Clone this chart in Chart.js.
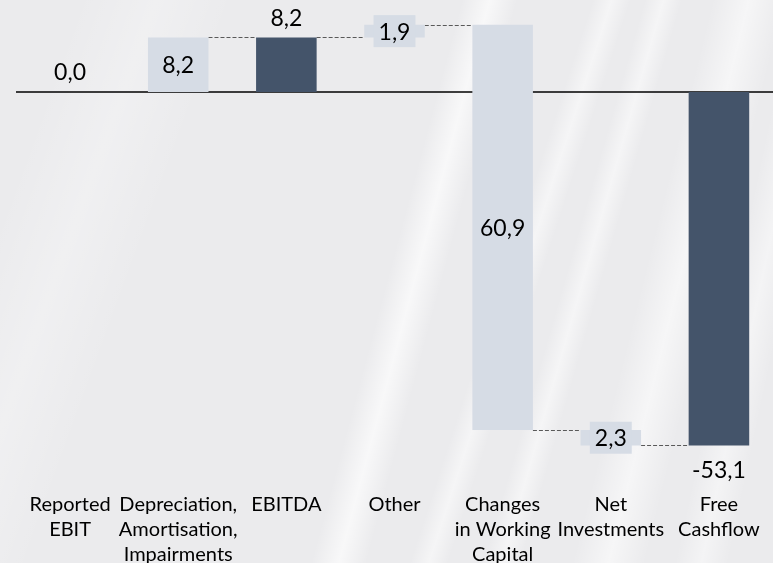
<!DOCTYPE html>
<html lang="en">
<head>
    <meta charset="UTF-8">
    <title>Free Cashflow bridge</title>
    <script src="https://cdn.jsdelivr.net/npm/chart.js@4.4.0/dist/chart.umd.min.js"></script>
    <style>
        html, body { margin: 0; padding: 0; }
        body {
            width: 773px; height: 563px; overflow: hidden;
            background-color: #ebebed;
            background-image:
                linear-gradient(105deg, rgba(255,255,255,0) 50%, rgba(255,255,255,0.65) 53%, rgba(255,255,255,0) 56%),
                linear-gradient(108deg, rgba(255,255,255,0) 62%, rgba(255,255,255,0.5) 64%, rgba(255,255,255,0) 66%),
                linear-gradient(106deg, rgba(255,255,255,0) 69%, rgba(255,255,255,0.5) 71%, rgba(255,255,255,0) 73%),
                linear-gradient(104deg, rgba(255,255,255,0) 78%, rgba(255,255,255,0.55) 82%, rgba(255,255,255,0) 86%),
                linear-gradient(102deg, rgba(255,255,255,0) 89%, rgba(255,255,255,0.45) 92%, rgba(255,255,255,0) 95%),
                linear-gradient(110deg, rgba(255,255,255,0) 8%, rgba(255,255,255,0.25) 16%, rgba(255,255,255,0) 24%);
        }
        #chart1 { display: block; }
    </style>
</head>
<body>
    <canvas id="chart1" width="773" height="563"></canvas>
    <script>
        // categories and values
        const categories = [
            ['Reported', 'EBIT'],
            ['Depreciation,', 'Amortisation,', 'Impairments'],
            ['EBITDA'],
            ['Other'],
            ['Changes', 'in Working', 'Capital'],
            ['Net', 'Investments'],
            ['Free', 'Cashflow']
        ];
        const values = [0.0, 8.2, 8.2, 1.9, -60.9, -2.3, -53.1];
        // totals start from zero, the others float on the running total
        const isTotal = [true, false, true, false, false, false, true];

        const LIGHT = '#d6dce5';
        const DARK = '#44546a';

        // build the floating bars [start, end]
        let running = 0;
        const ranges = values.map((v, i) => {
            if (isTotal[i]) {
                running = v;
                return [0, v];
            }
            const start = running;
            running = Math.round((running + v) * 10) / 10;
            return [start, running];
        });

        const labelTexts = values.map((v, i) => (isTotal[i] ? v : Math.abs(v)).toFixed(1).replace('.', ','));
        const labelPos = ['above', 'center', 'above', 'center', 'center', 'center', 'below'];
        const labelBox = [false, false, false, true, false, true, false];
        const colors = isTotal.map((t, i) => (t && i > 0) ? DARK : LIGHT);

        const FONT = 'Lato, "Open Sans", sans-serif';

        const bridgePlugin = {
            id: 'bridge',
            beforeDatasetsDraw(chart) {
                const { ctx, chartArea, scales: { y } } = chart;
                const bars = chart.getDatasetMeta(0).data;
                ctx.save();
                // zero line
                const y0 = y.getPixelForValue(0);
                ctx.strokeStyle = '#000';
                ctx.lineWidth = 1.5;
                ctx.beginPath();
                ctx.moveTo(chartArea.left, y0);
                ctx.lineTo(chartArea.right, y0);
                ctx.stroke();
                // dashed connectors between bars
                ctx.strokeStyle = '#595959';
                ctx.lineWidth = 1;
                ctx.setLineDash([4, 2]);
                for (let i = 1; i < bars.length - 1; i++) {
                    const a = bars[i], b = bars[i + 1];
                    const yy = Math.round(y.getPixelForValue(ranges[i][1])) + 0.5;
                    ctx.beginPath();
                    ctx.moveTo(a.x + a.width / 2, yy);
                    ctx.lineTo(b.x - b.width / 2, yy);
                    ctx.stroke();
                }
                ctx.restore();
            },
            afterDatasetsDraw(chart) {
                const { ctx } = chart;
                const bars = chart.getDatasetMeta(0).data;
                ctx.save();
                ctx.font = '23px ' + FONT;
                ctx.textAlign = 'center';
                ctx.textBaseline = 'middle';
                bars.forEach((bar, i) => {
                    const top = Math.min(bar.y, bar.base);
                    const bottom = Math.max(bar.y, bar.base);
                    let ty;
                    if (labelPos[i] === 'above') ty = top - 20;
                    else if (labelPos[i] === 'below') ty = bottom + 24;
                    else ty = (top + bottom) / 2;
                    if (labelBox[i]) {
                        const w = ctx.measureText(labelTexts[i]).width + 10;
                        ctx.fillStyle = colors[i];
                        ctx.fillRect(bar.x - w / 2, ty - 16, w, 32);
                    }
                    ctx.fillStyle = '#000';
                    ctx.fillText(labelTexts[i], bar.x, ty + 1);
                });
                ctx.restore();
            }
        };

        const ctx = document.getElementById('chart1');
        const chart1 = new Chart(ctx, {
            type: 'bar',
            data: {
                labels: categories,
                datasets: [{
                    data: ranges,
                    backgroundColor: colors,
                    borderWidth: 0,
                    categoryPercentage: 1,
                    barPercentage: 0.56
                }]
            },
            options: {
                responsive: false,
                animation: false,
                layout: { padding: { left: 16, right: 0, top: 0, bottom: -24 } },
                scales: {
                    x: {
                        grid: { display: false, drawTicks: false },
                        border: { display: false },
                        ticks: {
                            color: '#000',
                            font: { family: FONT, size: 20, lineHeight: 1.25 },
                            padding: 20,
                            maxRotation: 0,
                            autoSkip: false
                        },
                        // the labels fit inside their columns, no extra side room
                        afterFit(scale) {
                            scale.paddingLeft = 0;
                            scale.paddingRight = 0;
                        }
                    },
                    y: {
                        display: false,
                        min: -57.1,
                        max: 13.83
                    }
                },
                plugins: {
                    legend: { display: false },
                    tooltip: { enabled: false }
                }
            },
            plugins: [bridgePlugin]
        });
    </script>
</body>
</html>
